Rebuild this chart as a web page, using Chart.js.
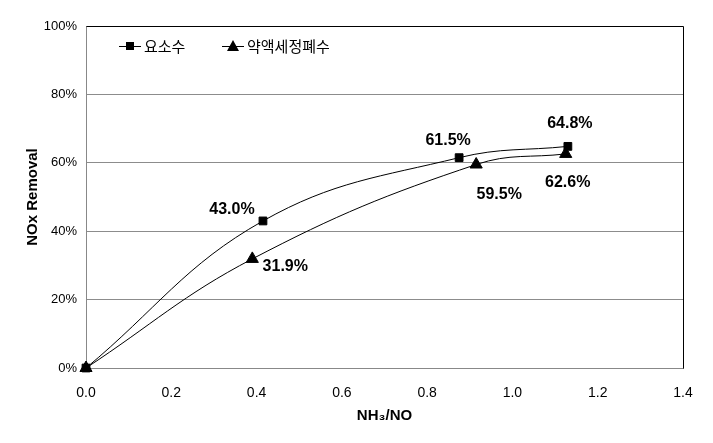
<!DOCTYPE html>
<html>
<head>
<meta charset="utf-8">
<script src="https://cdn.jsdelivr.net/npm/chart.js@4"></script>
<style>
  html, body { margin: 0; padding: 0; background: #fff; }
  #wrap { width: 713px; height: 443px; }
</style>
</head>
<body>
<div id="wrap"><canvas id="chartNox" width="713" height="443"></canvas></div>
<script>
// datos
const serieNombres = ["요소수", "약액세정폐수"];
const ureaX = [0.0, 0.415, 0.875, 1.13];
const ureaY = [0.0, 43.0, 61.5, 64.8];
const washX = [0.0, 0.39, 0.915, 1.125];
const washY = [0.0, 31.9, 59.5, 62.6];
const xTicks = [0, 0.2, 0.4, 0.6, 0.8, 1.0, 1.2, 1.4];
const yTicks = [0, 20, 40, 60, 80, 100];

const FONT = "'Liberation Sans', 'Noto Sans CJK KR', sans-serif";

const toPts = (xs, ys) => xs.map((x, i) => ({ x, y: ys[i] }));

// offsets de etiquetas (dx, dy) respecto al punto
const ureaOff = [null, [-31, -11], [-11, -17], [2, -23]];
const washOff = [null, [33, 8], [23, 30], [2, 29]];

const labelsPlugin = {
  id: "labelsNox",
  afterDatasetsDraw(chart) {
    const ctx = chart.ctx;
    ctx.save();
    ctx.font = "bold 16px " + FONT;
    ctx.fillStyle = "#000";
    ctx.textAlign = "center";
    ctx.textBaseline = "middle";
    [ureaOff, washOff].forEach((offs, di) => {
      const meta = chart.getDatasetMeta(di);
      meta.data.forEach((el, i) => {
        if (!offs[i]) return;
        const v = chart.data.datasets[di].data[i].y;
        ctx.fillText(v.toFixed(1) + "%", el.x + offs[i][0], el.y + offs[i][1]);
      });
    });
    ctx.restore();
  },
};

const bordePlugin = {
  id: "bordeNox",
  afterDraw(chart) {
    const a = chart.chartArea;
    const ctx = chart.ctx;
    ctx.save();
    ctx.strokeStyle = "#000";
    ctx.lineWidth = 1;
    ctx.beginPath();
    ctx.moveTo(Math.round(a.left) + 0.5, Math.round(a.top) + 0.5);
    ctx.lineTo(Math.round(a.right) + 0.5, Math.round(a.top) + 0.5);
    ctx.lineTo(Math.round(a.right) + 0.5, Math.round(a.bottom) + 0.5);
    ctx.stroke();

    // leyenda dentro del area
    const items = [["rect", serieNombres[0], 119], ["triangle", serieNombres[1], 222]];
    const ly = 46;
    items.forEach(([shape, txt, x0]) => {
      ctx.strokeStyle = "#000";
      ctx.beginPath();
      ctx.moveTo(x0, ly + 0.5);
      ctx.lineTo(x0 + 22, ly + 0.5);
      ctx.stroke();
      ctx.fillStyle = "#000";
      const cx = x0 + 11;
      if (shape === "rect") {
        ctx.fillRect(cx - 4, ly - 4, 8, 8);
      } else {
        ctx.beginPath();
        ctx.moveTo(cx, ly - 6);
        ctx.lineTo(cx + 6, ly + 5);
        ctx.lineTo(cx - 6, ly + 5);
        ctx.closePath();
        ctx.fill();
      }
      ctx.font = "15px 'Noto Sans CJK KR', sans-serif";
      ctx.textAlign = "left";
      ctx.textBaseline = "middle";
      ctx.fillText(txt, x0 + 25, ly);
    });
    ctx.restore();
  },
};

const ctx = document.getElementById("chartNox").getContext("2d");
new Chart(ctx, {
  type: "scatter",
  data: {
    datasets: [
      {
        label: serieNombres[0],
        data: toPts(ureaX, ureaY),
        showLine: true,
        clip: false,
        borderColor: "#000",
        backgroundColor: "#000",
        borderWidth: 1,
        tension: 0.4,
        pointStyle: "rect",
        pointRadius: 5.5,
      },
      {
        label: serieNombres[1],
        data: toPts(washX, washY),
        showLine: true,
        clip: false,
        borderColor: "#000",
        backgroundColor: "#000",
        borderWidth: 1,
        tension: 0.4,
        pointStyle: "triangle",
        pointRadius: 7,
      },
    ],
  },
  options: {
    responsive: false,
    animation: false,
    layout: { padding: { top: 26, right: 30, left: 20, bottom: 14 } },
    scales: {
      x: {
        min: 0,
        max: 1.4,
        afterBuildTicks: (s) => { s.ticks = xTicks.map((v) => ({ value: v })); },
        afterFit: (s) => { s.height = 61; },
        ticks: { color: "#000", font: { family: FONT, size: 14 }, padding: 17, callback: (v) => Number(v).toFixed(1) },
        grid: { display: false, drawTicks: false },
        border: { color: "#888", width: 1 },
        title: { display: true, text: "NH₃/NO", color: "#000", font: { family: FONT, size: 15, weight: "bold" }, padding: { top: 0 } },
      },
      y: {
        min: 0,
        max: 100,
        afterBuildTicks: (s) => { s.ticks = yTicks.map((v) => ({ value: v })); },
        afterFit: (s) => { s.width = 66; },
        ticks: { color: "#000", font: { family: FONT, size: 13 }, padding: 9, callback: (v) => v + "%" },
        grid: { color: "#8c8c8c", drawTicks: false },
        border: { color: "#888", width: 1 },
        title: { display: true, text: "NOx Removal", color: "#000", font: { family: FONT, size: 15, weight: "bold" }, padding: { bottom: 4 } },
      },
    },
    plugins: {
      legend: { display: false },
      tooltip: { enabled: false },
    },
  },
  plugins: [labelsPlugin, bordePlugin],
});
</script>
</body>
</html>
